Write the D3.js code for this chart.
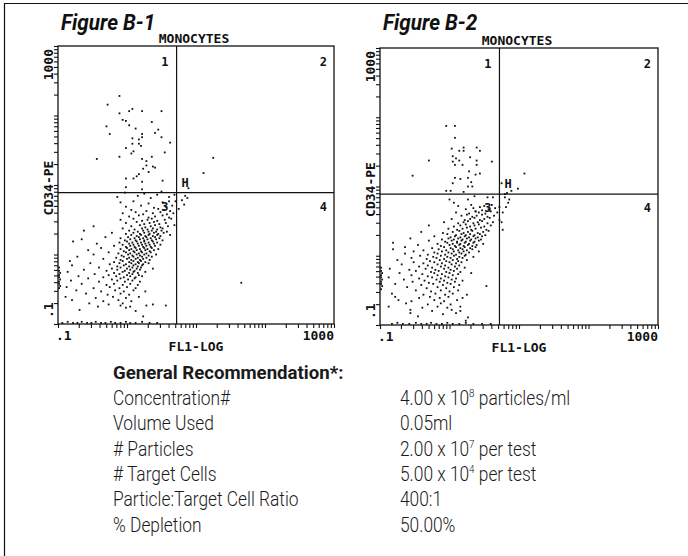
<!DOCTYPE html>
<html>
<head>
<meta charset="utf-8">
<script src="https://cdn.jsdelivr.net/npm/d3@7"></script>
<style>
  body { margin: 0; background: #fff; }
  .mono { font-family: "DejaVu Sans Mono", monospace; font-weight: bold; fill: #111; }
  .fig-title { font-family: Roboto, sans-serif; font-weight: bold; font-style: italic; fill: #111; }
  .rec { font-family: Roboto, sans-serif; fill: #1a1a1a; }
</style>
</head>
<body>
<svg id="chart" width="688" height="556"></svg>
<script>
// ---- data (channels 0-256 over 4 log decades, .1 to 1000) ----
const figureTitles = ["Figure B-1", "Figure B-2"];
const plotTitle = "MONOCYTES";
const xAxisTitle = "FL1-LOG";
const yAxisTitle = "CD34-PE";
const decadeLabels = [".1", "1000"];
const quadrantLabels = ["1", "2", "3", "4"];
const gateLabel = "H";
const gateX = 110;
const gateY = 121;

const fig1Events = [
  // quadrant 1
  [57,210],[46,202],[57,194],[66,196],[69,198],[78,196],[96,196],[60,188],[63,187],[66,183],[45,182],[48,175],
  [72,180],[78,175],[87,186],[93,179],[90,176],[96,172],[69,171],[75,170],[78,172],[69,166],[75,166],[77,164],
  [63,162],[104,167],[99,158],[68,157],[70,159],[57,154],[36,152],[78,152],[82,150],[87,154],[82,146],[88,145],
  [90,144],[79,143],[84,140],[63,134],[70,134],[73,136],[75,138],[78,131],[97,132],[63,126],[78,124],
  // quadrant 2 and near the gate
  [144,153],[135,139],[121,125],
  [115,114],[118,118],[112,106],[120,116],[117,110],[108,119],[103,117],[96,122],[92,119],[86,116],[80,120],
  [74,118],[62,121],[55,117],[109,113],
  // quadrant 3 population
  [58,112],[70,113],[84,111],[97,112],[103,113],
  [63,108],[77,109],[89,107],[100,108],[106,109],
  [68,105],[82,104],[93,106],[98,105],[104,104],
  [60,102],[72,103],[79,101],[88,102],[95,103],[101,101],[107,102],
  [66,99],[75,100],[84,98],[90,99],[97,100],[103,98],
  [58,96],[70,97],[78,95],[83,96],[87,97],[92,95],[99,96],[105,97],
  [63,93],[73,94],[80,92],[85,93],[89,94],[94,92],[100,93],
  [33,90],[68,90],[76,91],[81,89],[86,90],[90,91],[95,89],[102,90],[108,91],
  [60,88],[71,87],[78,88],[83,87],[88,88],[92,87],[97,88],
  [24,86],[66,86],[74,85],[79,86],[84,85],[87,86],[91,85],[96,86],[101,85],
  [50,84],[63,83],[70,84],[76,83],[80,84],[85,83],[89,84],[93,83],[98,84],
  [68,82],[73,81],[77,82],[81,81],[84,82],[88,81],[92,82],[95,81],[104,82],
  [44,80],[58,79],[65,80],[71,79],[75,80],[79,79],[82,80],[86,79],[90,80],[94,79],
  [22,78],[62,77],[67,78],[72,77],[76,78],[80,77],[83,78],[87,77],[91,78],[97,77],
  [14,76],[57,75],[64,76],[69,75],[73,76],[77,75],[80,76],[84,75],[88,76],[92,75],
  [36,74],[60,73],[66,74],[70,73],[74,74],[78,73],[81,74],[85,73],[89,74],[95,73],
  [52,72],[63,71],[67,72],[71,71],[75,72],[79,71],[82,72],[86,71],[90,72],
  [40,70],[58,69],[64,70],[68,69],[72,70],[76,69],[80,70],[83,69],[87,70],[93,69],
  [28,68],[61,67],[66,68],[70,67],[73,68],[77,67],[81,68],[85,67],[89,68],
  [47,66],[56,65],[63,66],[67,65],[71,66],[75,65],[78,66],[82,65],[86,66],
  [33,64],[59,63],[65,64],[69,63],[73,64],[76,63],[80,64],[84,63],[91,64],
  [18,62],[54,61],[61,62],[66,61],[70,62],[74,61],[78,62],[82,61],[87,62],
  [42,60],[58,59],[64,60],[68,59],[72,60],[76,59],[79,60],[85,59],
  [11,58],[52,57],[60,58],[66,57],[70,58],[74,57],[77,58],[81,57],
  [30,56],[48,55],[57,56],[63,55],[68,56],[72,55],[75,56],[79,55],[84,56],
  [13,54],[55,53],[61,54],[66,53],[70,54],[74,53],[78,54],
  [38,52],[50,51],[58,52],[64,51],[69,52],[73,51],[77,52],[88,51],
  [24,50],[45,49],[55,50],[62,49],[67,50],[71,49],[76,50],
  [9,48],[52,47],[60,48],[66,47],[70,48],[74,47],[81,48],
  [34,46],[47,45],[57,46],[64,45],[69,46],[75,45],
  [19,44],[42,43],[54,44],[61,43],[67,44],[72,43],[78,44],
  [28,42],[50,41],[58,42],[65,41],[71,42],
  [12,40],[38,39],[55,40],[62,39],[69,40],[76,39],
  [22,37],[45,36],[52,37],[60,36],[67,37],[74,36],
  [8,34],[33,33],[48,34],[57,33],[64,34],[72,33],
  [17,31],[40,30],[53,31],[61,30],[70,31],[81,30],
  [26,28],[46,27],[58,28],[66,27],
  [7,25],[35,24],[51,25],[63,24],[75,25],
  [13,22],[42,21],[56,22],[68,21],
  [29,19],[47,18],[60,19],[88,18],
  [37,16],[58,17],[63,15],[67,16],[82,17],[100,17],
  [20,13],[72,12],[79,7],
  // on the axes
  [1,33],[2,35],[1,37],[1,39],[2,41],[1,43],[1,45],[2,47],[1,49],[1,52],
  [4,1],[9,2],[14,1],[18,1],[22,2],[27,1],[31,1],[35,2],[40,1],[44,1],[49,2],[53,1],[58,1],[63,2],[67,1],
  [72,1],[78,2],[85,1],[92,1],
  // quadrant 4
  [170,38]
];

const fig2Events = [
  // quadrant 1
  [61,184],[69,184],[69,173],[66,163],[73,161],[77,164],[77,161],[89,164],[92,161],[67,156],[70,154],[67,151],
  [69,148],[73,152],[83,155],[89,152],[89,148],[103,151],[45,152],[30,138],[76,148],[82,142],[88,139],[92,140],
  [69,136],[74,135],[81,136],[67,131],[81,128],[85,128],[84,132],[61,124],[65,124],[77,123],
  // quadrant 2 and near the gate
  [133,140],[127,126],[121,124],[112,131],
  [115,118],[118,113],[116,109],[113,104],[113,88],[112,95],[119,116],[115,121],[117,122],
  [64,116],[68,113],[81,116],[87,119],[88,105],[99,118],[104,118],
  // quadrant 3 population
  [72,110],[84,111],[92,109],[96,110],[103,111],[110,109],
  [79,107],[86,108],[94,106],[100,107],[106,108],
  [70,104],[82,103],[88,105],[91,104],[97,103],[102,105],[108,104],
  [75,101],[80,102],[85,100],[89,101],[94,102],[99,100],[105,101],
  [66,98],[78,97],[83,98],[87,99],[92,97],[96,98],[101,99],[110,97],
  [59,95],[72,94],[77,95],[81,96],[86,94],[90,95],[94,96],[99,94],[104,95],
  [45,92],[68,91],[74,92],[79,93],[83,91],[87,92],[91,93],[96,91],[102,92],
  [63,89],[71,88],[76,89],[80,90],[84,88],[88,89],[93,90],[98,88],
  [38,86],[58,85],[67,86],[73,87],[77,85],[81,86],[85,87],[90,85],[95,86],[100,87],
  [62,84],[70,83],[75,84],[79,83],[83,84],[87,83],[92,84],[97,83],
  [50,82],[65,81],[69,82],[74,81],[78,82],[82,81],[86,82],[90,81],[94,82],
  [28,80],[57,79],[63,80],[68,79],[72,80],[76,79],[80,80],[84,79],[88,80],[93,79],
  [45,78],[60,77],[66,78],[71,77],[75,78],[79,77],[83,78],[87,77],[91,78],
  [12,76],[53,75],[62,76],[67,75],[71,76],[74,75],[78,76],[82,75],[86,76],[95,75],
  [35,74],[56,73],[64,74],[69,73],[73,74],[77,73],[81,74],[85,73],[89,74],
  [23,72],[48,71],[59,72],[65,71],[70,72],[74,71],[78,72],[83,71],[88,72],
  [12,70],[40,69],[54,70],[61,69],[67,70],[72,69],[76,70],[80,69],[85,70],
  [31,68],[50,67],[57,68],[63,67],[68,68],[73,67],[77,68],[82,67],[91,68],
  [23,66],[44,65],[53,66],[60,65],[66,66],[70,65],[75,66],[79,65],
  [37,64],[49,63],[56,64],[62,63],[68,64],[73,63],[78,64],[86,63],
  [29,62],[43,61],[52,62],[59,61],[65,62],[71,61],[76,62],
  [16,60],[46,59],[55,60],[61,59],[67,60],[72,59],[80,60],
  [31,58],[40,57],[50,58],[57,57],[64,58],[70,57],[75,58],
  [20,56],[44,55],[53,56],[60,55],[66,56],[73,55],
  [36,54],[48,53],[56,54],[63,53],[69,54],[78,53],
  [9,52],[27,51],[42,52],[51,51],[59,52],[65,51],[71,52],
  [33,50],[47,49],[54,50],[61,49],[68,50],[74,49],
  [18,48],[39,47],[50,48],[57,47],[64,48],[72,47],[84,48],
  [29,46],[44,45],[53,46],[60,45],[67,46],
  [8,44],[36,43],[48,44],[56,43],[63,44],[70,43],
  [22,42],[41,41],[52,42],[59,41],[66,42],[76,41],
  [30,40],[45,39],[55,40],[62,39],[69,40],
  [14,38],[38,37],[49,38],[58,37],[65,38],[73,37],
  [25,35],[43,34],[53,35],[61,34],[68,35],[98,36],
  [33,32],[47,31],[56,32],[64,31],[72,32],
  [11,29],[40,28],[51,29],[60,28],[67,29],[80,28],
  [14,26],[36,25],[46,26],[55,25],[63,26],[76,25],
  [17,23],[29,22],[50,23],[59,22],[71,23],
  [24,20],[44,19],[56,20],[65,19],
  [8,17],[39,16],[53,17],[62,16],[74,17],
  [28,14],[48,13],[66,14],[74,13],
  [28,11],[58,10],[70,11],[35,8],[81,7],[79,4],
  // on the axes
  [1,33],[2,36],[1,38],[1,40],[2,42],[1,44],[1,46],[2,48],[1,50],[1,53],
  [11,1],[16,2],[21,1],[27,1],[33,2],[38,1],[43,1],[47,2],[52,1],[57,1],[62,2],[67,1],[73,1],[79,2],
  [86,1],[94,1],[102,1]
];

const recTitle = "General Recommendation*:";
const recLabels = ["Concentration#", "Volume Used", "# Particles", "# Target Cells",
  "Particle:Target Cell Ratio", "% Depletion"];
// [mantissa text, exponent, trailing text]
const recValues = [
  ["4.00 x 10", "8", " particles/ml"],
  ["0.05ml", "", ""],
  ["2.00 x 10", "7", " per test"],
  ["5.00 x 10", "4", " per test"],
  ["400:1", "", ""],
  ["50.00%", "", ""]
];

// ---- layout ----
const svg = d3.select("#chart");
const ink = "#111";

// page frame (top and left edges)
svg.append("path")
  .attr("d", "M4.5,556 V3.5 H688")
  .attr("fill", "none")
  .attr("stroke", ink)
  .attr("stroke-width", 1.2);

const panels = [
  { title: figureTitles[0], events: fig1Events, left: 58, top: 46, width: 276, height: 278 },
  { title: figureTitles[1], events: fig2Events, left: 380, top: 48, width: 278, height: 277 }
];

panels.forEach(drawPanel);

function drawPanel(p) {
  const g = svg.append("g");
  const x = d3.scaleLinear().domain([0, 256]).range([p.left, p.left + p.width]);
  const y = d3.scaleLinear().domain([0, 256]).range([p.top + p.height, p.top]);
  const xLog = d3.scaleLog().domain([0.1, 1000]).range(x.range());
  const yLog = d3.scaleLog().domain([0.1, 1000]).range(y.range());

  // titles
  g.append("text")
    .attr("class", "fig-title")
    .attr("transform", `translate(${p.left + 3},30) scale(0.94,1)`)
    .attr("font-size", 22)
    .text(p.title);
  g.append("text")
    .attr("class", "mono")
    .attr("x", p.left + p.width / 2 - 2)
    .attr("y", p.top - 3)
    .attr("text-anchor", "middle")
    .attr("font-size", 13)
    .text(plotTitle);

  // axes
  const xAxis = g.append("g")
    .attr("transform", `translate(0,${p.top + p.height})`)
    .call(d3.axisBottom(xLog).tickSize(4).tickFormat(""));
  const yAxis = g.append("g")
    .attr("transform", `translate(${p.left},0)`)
    .call(d3.axisLeft(yLog).tickSize(4).tickFormat(""));
  [xAxis, yAxis].forEach(a => {
    a.select(".domain").remove();
    a.selectAll("line").attr("stroke", ink).attr("stroke-width", 1.1);
  });

  // frame
  g.append("rect")
    .attr("x", p.left).attr("y", p.top)
    .attr("width", p.width).attr("height", p.height)
    .attr("fill", "none").attr("stroke", ink).attr("stroke-width", 1.3);

  // quadrant gates
  g.append("line")
    .attr("x1", x(gateX)).attr("x2", x(gateX))
    .attr("y1", p.top).attr("y2", p.top + p.height)
    .attr("stroke", ink).attr("stroke-width", 1.2);
  g.append("line")
    .attr("x1", p.left).attr("x2", p.left + p.width)
    .attr("y1", y(gateY)).attr("y2", y(gateY))
    .attr("stroke", ink).attr("stroke-width", 1.2);

  // events
  g.append("g").selectAll("rect")
    .data(p.events)
    .join("rect")
    .attr("x", d => x(d[0]) - 0.9)
    .attr("y", d => y(d[1]) - 0.9)
    .attr("width", 1.8)
    .attr("height", 1.8)
    .attr("fill", ink);

  // quadrant numbers
  const qPos = [
    [x(gateX) - 8, p.top + 20],
    [p.left + p.width - 7, p.top + 20],
    [x(gateX) - 8, y(gateY) + 18],
    [p.left + p.width - 7, y(gateY) + 18]
  ];
  g.selectAll(".qlabel")
    .data(quadrantLabels)
    .join("text")
    .attr("class", "mono qlabel")
    .attr("x", (d, i) => qPos[i][0])
    .attr("y", (d, i) => qPos[i][1])
    .attr("text-anchor", "end")
    .attr("font-size", 12)
    .text(d => d);
  g.append("text")
    .attr("class", "mono")
    .attr("x", x(gateX) + 5)
    .attr("y", y(gateY) - 6)
    .attr("font-size", 12)
    .text(gateLabel);

  // x labels
  g.append("text")
    .attr("class", "mono")
    .attr("x", p.left - 2)
    .attr("y", p.top + p.height + 16)
    .attr("font-size", 13)
    .text(decadeLabels[0]);
  g.append("text")
    .attr("class", "mono")
    .attr("x", p.left + p.width)
    .attr("y", p.top + p.height + 16)
    .attr("text-anchor", "end")
    .attr("font-size", 13)
    .text(decadeLabels[1]);
  g.append("text")
    .attr("class", "mono")
    .attr("x", p.left + p.width / 2)
    .attr("y", p.top + p.height + 27)
    .attr("text-anchor", "middle")
    .attr("font-size", 13)
    .text(xAxisTitle);

  // y labels (rotated)
  const yl = (txt, yy, anchor) => g.append("text")
    .attr("class", "mono")
    .attr("transform", `translate(${p.left - 5},${yy}) rotate(-90)`)
    .attr("text-anchor", anchor)
    .attr("font-size", 13)
    .text(txt);
  yl(decadeLabels[1], p.top + 3, "end");
  yl(yAxisTitle, p.top + p.height / 2 + 3, "middle");
  yl(decadeLabels[0], p.top + p.height - 6, "start");
}

// ---- recommendation table ----
const rec = svg.append("g");
const labelX = 113, valueX = 400, firstRow = 405, rowStep = 25.3;
const squeeze = 0.89;

rec.append("text")
  .attr("class", "rec")
  .attr("transform", `translate(${labelX},379) scale(0.98,1)`)
  .attr("font-size", 19)
  .attr("font-weight", "bold")
  .text(recTitle);

recLabels.forEach((lab, i) => {
  rec.append("text")
    .attr("class", "rec")
    .attr("transform", `translate(${labelX},${firstRow + i * rowStep}) scale(${squeeze},1)`)
    .attr("font-size", 19.5)
    .attr("font-weight", 300)
    .text(lab);
});

recValues.forEach((v, i) => {
  const t = rec.append("text")
    .attr("class", "rec")
    .attr("transform", `translate(${valueX},${firstRow + i * rowStep}) scale(${squeeze},1)`)
    .attr("font-size", 19.5)
    .attr("font-weight", 300);
  t.append("tspan").text(v[0]);
  if (v[1]) {
    t.append("tspan").attr("font-size", 11).attr("dy", -8).text(v[1]);
    t.append("tspan").attr("dy", 8).text(v[2]);
  }
});
</script>
</body>
</html>
